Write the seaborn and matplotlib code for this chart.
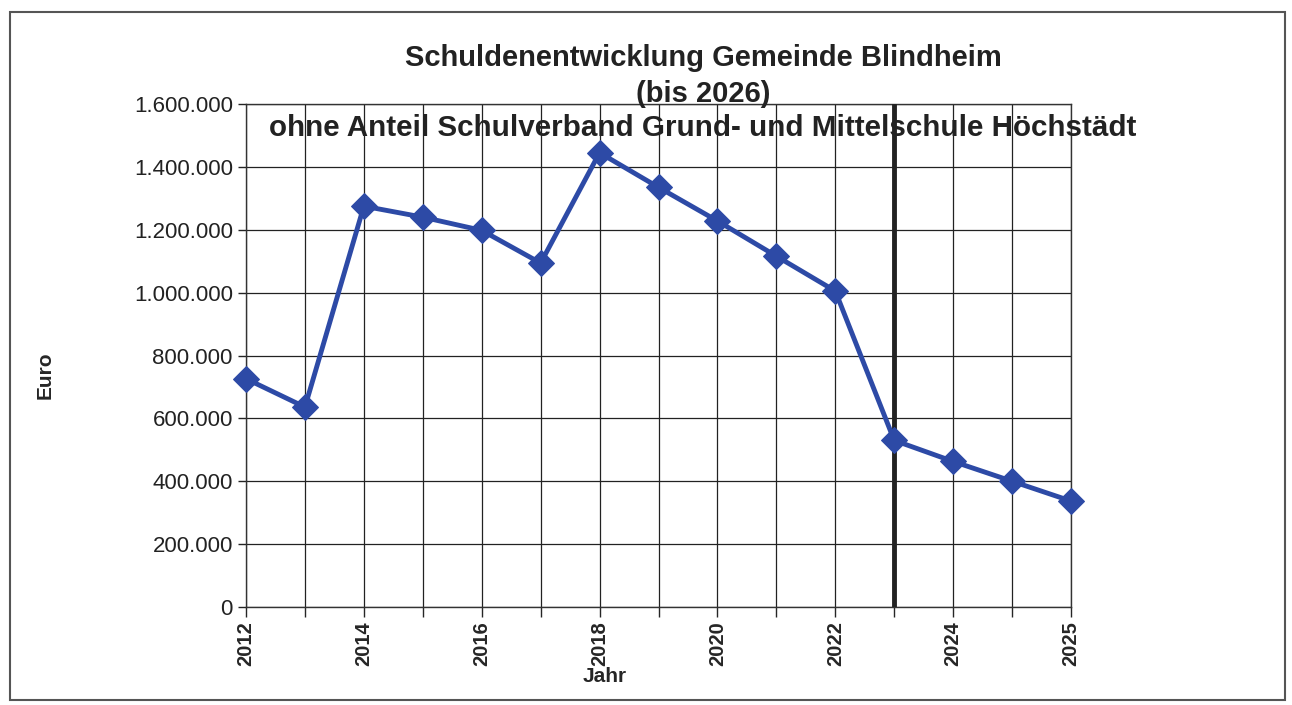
import matplotlib
matplotlib.use("Agg")
import matplotlib.pyplot as plt
import seaborn as sns
import pandas as pd
from matplotlib.patches import Rectangle
from matplotlib.ticker import FuncFormatter, MultipleLocator

# ---- data ----
tick_labels = ["2012", "", "2014", "", "2016", "", "2018", "", "2020", "",
               "2022", "", "2024", "", "2025"]
debt_euro = [726000, 636000, 1275000, 1240000, 1198000, 1094000, 1445000,
             1335000, 1228000, 1116000, 1005000, 530000, 463000, 400000, 337000]
marker_year_index = 11  # vertical separator (2023)

title = "Schuldenentwicklung Gemeinde Blindheim\n(bis 2026)"
subtitle = "ohne Anteil Schulverband Grund- und Mittelschule Höchstädt"

df = pd.DataFrame({"pos": list(range(len(debt_euro))), "Euro": debt_euro})

sns.set_theme(style="white")
plt.rcParams['font.family'] = ['Liberation Sans', 'DejaVu Sans']

fig = plt.figure(figsize=(12.92, 7.05), dpi=100)
ax = fig.add_axes([246/1292, 1 - 607/705, (1071-246)/1292, (607-104)/705])

sns.lineplot(data=df, x="pos", y="Euro", ax=ax, color="#2D4AA6",
             linewidth=3.5, marker="D", markersize=13,
             markeredgecolor="#2D4AA6", zorder=5, clip_on=False)

ax.set_xlim(0, len(debt_euro) - 1)
ax.set_ylim(0, 1600000)
ax.yaxis.set_major_locator(MultipleLocator(200000))
ax.yaxis.set_major_formatter(FuncFormatter(lambda v, p: f"{int(v):,}".replace(",", ".")))
ax.set_xticks(df["pos"])
ax.set_xticklabels(tick_labels, rotation=90, fontweight="bold", fontsize=14.5)
ax.tick_params(axis="y", labelsize=16, colors="#222222", length=6, width=1,
               direction="out", left=True)
ax.tick_params(axis="x", length=7, width=1, direction="out", bottom=True, pad=3)
ax.grid(True, color="#222222", linewidth=0.9)
for s in ax.spines.values():
    s.set_color("#333333")
    s.set_linewidth(1.0)
ax.axvline(marker_year_index, color="#222222", linewidth=3.5, zorder=4)

ax.set_xlabel("Jahr", fontweight="bold", fontsize=15)
ax.xaxis.set_label_coords((605-246)/(1071-246), -0.12)
ax.set_ylabel("Euro", fontweight="bold", fontsize=15)
ax.yaxis.set_label_coords((55-246)/(1071-246), 0.46)

fig.text(703/1292, 1 - 76/705, title, ha="center", va="center",
         fontsize=21, fontweight="bold", color="#222222", linespacing=1.35)
fig.text(703/1292, 1 - 128/705, subtitle, ha="center", va="center",
         fontsize=21.3, fontweight="bold", color="#222222", zorder=10)

fig.patches.append(Rectangle((10/1292, 1 - 700/705), 1275/1292, 688/705,
                             transform=fig.transFigure, fill=False,
                             edgecolor="#555555", linewidth=1.5))

fig.savefig("out.png", dpi=100)
